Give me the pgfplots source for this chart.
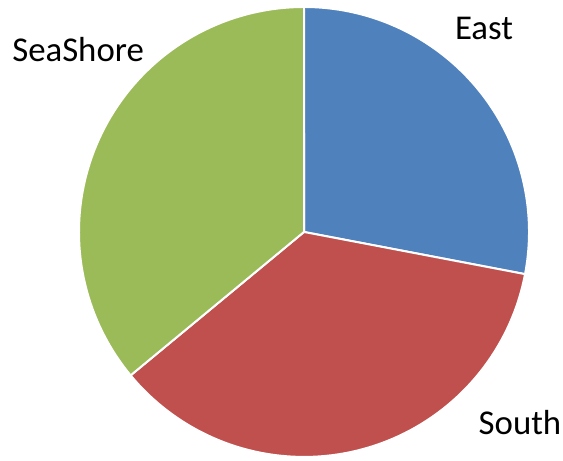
\documentclass[border=0pt]{standalone}
\usepackage{pgfplots}
\usepackage{pgfplotstable}
\usepackage{fontspec}
\setmainfont{Carlito}
\pgfplotsset{compat=1.18}

\definecolor{eastblue}{HTML}{4F81BD}
\definecolor{southred}{HTML}{C0504D}
\definecolor{seagreen}{HTML}{9BBB59}

% share of each region, percent
\pgfplotstableread{
name     value
East     28
South    36
SeaShore 36
}\piedata

\begin{document}
\begin{tikzpicture}
\pgfplotstablegetelem{0}{value}\of\piedata \let\vEast\pgfplotsretval
\pgfplotstablegetelem{1}{value}\of\piedata \let\vSouth\pgfplotsretval
\pgfplotstablegetelem{2}{value}\of\piedata \let\vSea\pgfplotsretval
% slices run clockwise from 12 o'clock
\pgfmathsetmacro{\aA}{90}
\pgfmathsetmacro{\aB}{\aA-3.6*\vEast}
\pgfmathsetmacro{\aC}{\aB-3.6*\vSouth}
\pgfmathsetmacro{\aD}{\aC-3.6*\vSea}
\begin{axis}[
    scale only axis,
    width=281.5pt, height=230.5pt,
    xmin=-1.351, xmax=1.151,
    ymin=-1.018, ymax=1.031,
    axis lines=none,
    xtick=\empty, ytick=\empty,
    clip=false,
]
\addplot[fill=eastblue, draw=white, line width=1pt, domain=\aB:\aA, samples=80]
    ({cos(x)}, {sin(x)}) -- (axis cs:0,0) -- cycle;
\addplot[fill=southred, draw=white, line width=1pt, domain=\aC:\aB, samples=80]
    ({cos(x)}, {sin(x)}) -- (axis cs:0,0) -- cycle;
\addplot[fill=seagreen, draw=white, line width=1pt, domain=\aD:\aC, samples=80]
    ({cos(x)}, {sin(x)}) -- (axis cs:0,0) -- cycle;

\node[inner sep=0pt, font=\fontsize{17.4}{20}\selectfont] at (axis cs:0.80,0.904) {East};
\node[inner sep=0pt, font=\fontsize{17.4}{20}\selectfont] at (axis cs:-1.004,0.809) {SeaShore};
\node[inner sep=0pt, font=\fontsize{17.4}{20}\selectfont] at (axis cs:0.96,-0.849) {South};
\coordinate (bl) at (rel axis cs:0,0);
\coordinate (tr) at (rel axis cs:1,1);
\end{axis}
\pgfresetboundingbox
\useasboundingbox (bl) rectangle (tr);
\end{tikzpicture}
\end{document}
